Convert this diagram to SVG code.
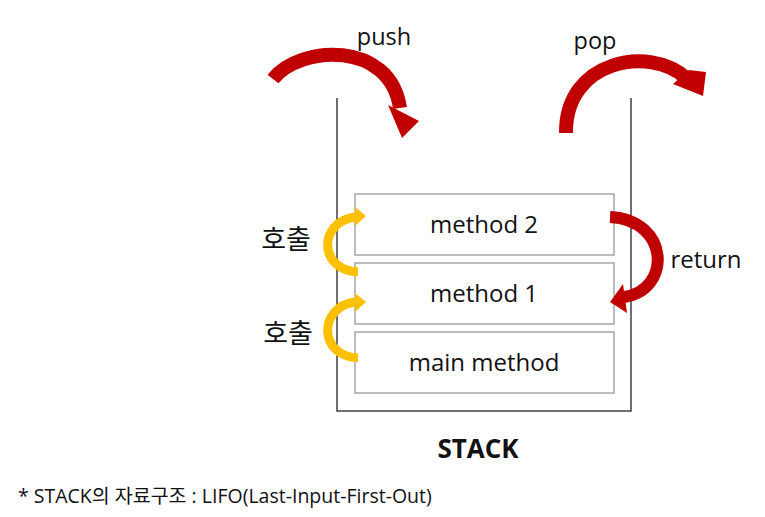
<svg xmlns="http://www.w3.org/2000/svg" width="765" height="517" viewBox="0 0 765 517">
<style>
.t{font-family:"Open Sans","Noto Sans CJK KR",sans-serif;fill:#111;}
.box{fill:#fff;stroke:#a6a6a6;stroke-width:1.5;}
.red{fill:none;stroke:#c00000;stroke-width:14;}
.redh{fill:#c00000;}
.yel{fill:none;stroke:#ffc000;stroke-width:9;}
.yelh{fill:#ffc000;}
</style>
<rect width="765" height="517" fill="#fff"/>
<g id="stack">
<path d="M337 98 V411 H631 V98" fill="none" stroke="#404040" stroke-width="1.5"/>
</g>
<g id="method2"><rect class="box" x="355" y="194" width="259" height="61"/><text class="t" x="484" y="233" font-size="24" text-anchor="middle">method 2</text></g>
<g id="method1"><rect class="box" x="355" y="263" width="259" height="61"/><text class="t" x="484" y="302" font-size="24" text-anchor="middle">method 1</text></g>
<g id="main"><rect class="box" x="355" y="332" width="259" height="61"/><text class="t" x="484" y="371" font-size="24" text-anchor="middle">main method</text></g>
<g id="connectors">
<path class="red" d="M273 79 C300 45 390 40 400 108"/>
<polygon class="redh" points="388,105 419,121 402,138"/>
<path class="red" d="M566 133 C565 60 650 45 686 78"/>
<polygon class="redh" points="689,70 706,72 703,96 673,84"/>
<path class="red" style="stroke-width:12" d="M610 217 C670 220 672 290 624 297"/>
<polygon class="redh" points="623,284 610,302 627,313"/>
<path class="yel" d="M358 272 C318 270 318 222 355 217"/>
<polygon class="yelh" points="355,207 366,216 355,226"/>
<path class="yel" d="M358 358 C318 356 318 307 355 302"/>
<polygon class="yelh" points="355,293 366,302 355,312"/>
</g>
<g id="labels">
<text class="t" x="384" y="45" font-size="23.5" text-anchor="middle">push</text>
<text class="t" x="595" y="49" font-size="23.5" text-anchor="middle">pop</text>
<text class="t" x="706" y="268" font-size="24" text-anchor="middle">return</text>
<text class="t" x="286" y="249" font-size="27" text-anchor="middle">호출</text>
<text class="t" x="288" y="343" font-size="27" text-anchor="middle">호출</text>
<text class="t" x="478" y="458" font-size="26" font-weight="bold" text-anchor="middle">STACK</text>
<text class="t" x="18" y="503" font-size="19.5">* STACK의 자료구조 : LIFO(Last-Input-First-Out)</text>
</g>
</svg>
